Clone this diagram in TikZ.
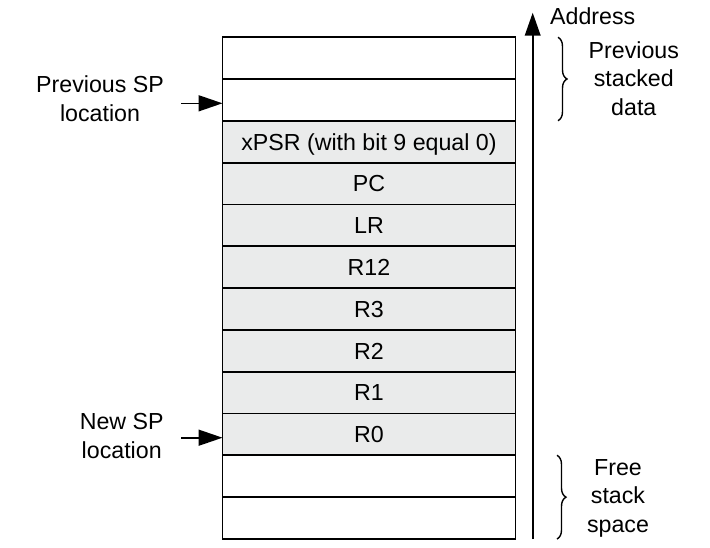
\documentclass[tikz,border=0pt]{standalone}
\usepackage{fontspec}
\setmainfont{Liberation Sans}
\usetikzlibrary{arrows.meta,decorations.pathreplacing}
\definecolor{cellgray}{RGB}{234,235,235}
\begin{document}
\begin{tikzpicture}[x=1pt,y=-1pt,
  txt/.style={font=\fontsize{23.2}{28.5}\selectfont, inner sep=0pt, align=center},
  cell/.style={draw=black, line width=1.7pt, minimum width=293pt, minimum height=41.8pt,
    inner sep=0pt, outer sep=0pt, anchor=north west,
    font=\fontsize{23.2}{28.5}\selectfont, text height=16.6pt, text depth=0pt},
  filled/.style={cell, fill=cellgray},
  ptr/.style={line width=1.6pt, -{Triangle[length=24pt,width=16pt]}},
  addr/.style={line width=1.9pt, -{Triangle[length=23pt,width=15.6pt]}},
  brc/.style={decorate, decoration={brace, amplitude=9pt}, line width=1.4pt}
]
\useasboundingbox (0,0) rectangle (710,547);
% stack cells
\node[cell]   (c0)  at (222.5,37.3) {};
\node[cell]   (c1)  at (222.5,79.1) {};
\node[filled] (c2)  at (222.5,120.9) {xPSR (with bit 9 equal 0)};
\node[filled] (c3)  at (222.5,162.7) {PC};
\node[filled] (c4)  at (222.5,204.5) {LR};
\node[filled] (c5)  at (222.5,246.3) {R12};
\node[filled] (c6)  at (222.5,288.1) {R3};
\node[filled] (c7)  at (222.5,329.9) {R2};
\node[filled] (c8)  at (222.5,371.7) {R1};
\node[filled] (c9)  at (222.5,413.5) {R0};
\node[cell]   (c10) at (222.5,455.3) {};
\node[cell]   (c11) at (222.5,497.1) {};
% address arrow
\coordinate (abot) at (532.7,539);
\coordinate (atop) at (532.7,12.7);
\draw[addr] (abot) -- (atop);
\node[txt, anchor=base west] (addrlbl) at (550,24.3) {Address};
% braces
\coordinate (b1t) at (558,37.3);
\coordinate (b1b) at (558,120.7);
\draw[brc] (b1t) -- (b1b);
\node[txt] (prevdata) at (633.8,78.5) {Previous\\stacked\\data};
\coordinate (b2t) at (557,455.3);
\coordinate (b2b) at (557,539);
\draw[brc] (b2t) -- (b2b);
\node[txt] (freespace) at (618,498) {Free\\stack\\space};
% SP pointers
\node[txt] (prevsp) at (100,98.9) {Previous SP\\location};
\coordinate (ps) at (181,103.3);
\draw[ptr] (ps) -- (ps -| c1.west);
\node[txt] (newsp) at (121.7,436.2) {New SP\\location};
\coordinate (ns) at (181,437.7);
\draw[ptr] (ns) -- (ns -| c9.west);
\end{tikzpicture}
\end{document}
